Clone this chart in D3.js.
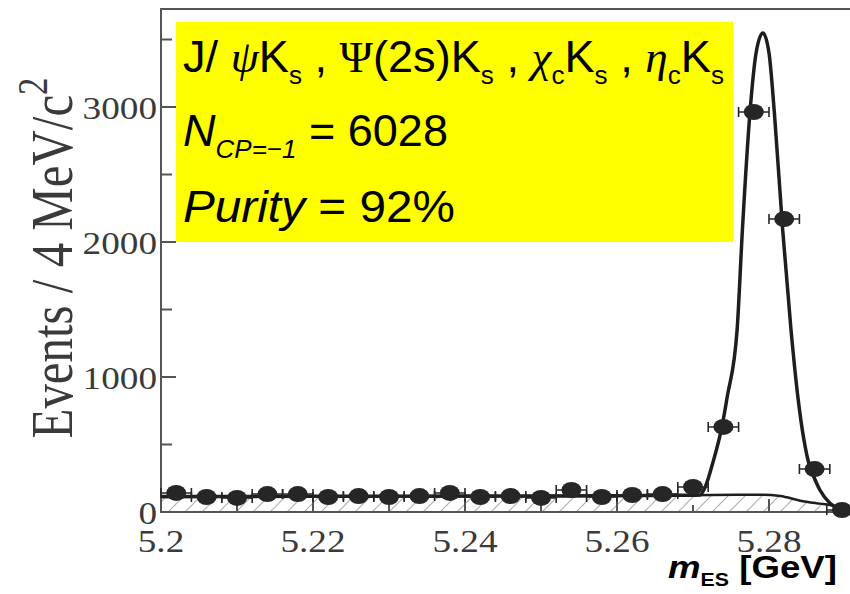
<!DOCTYPE html>
<html>
<head>
<meta charset="utf-8">
<script src="https://cdn.jsdelivr.net/npm/d3@7"></script>
<style>
  html, body { margin: 0; padding: 0; background: #fff; }
  svg { display: block; }
</style>
</head>
<body>
<div id="chart"></div>
<script>
"use strict";

const chtWidth = 850,
  chtHeight = 594;

// Plot frame (px)
const frame = { left: 161, right: 845, top: 9, bottom: 512, edge: 850 };

// Axes
const massDomain = [5.2, 5.29],
  eventsDomain = [0, 3726];
const massTicks = [5.2, 5.22, 5.24, 5.26, 5.28],
  massTickLabels = ["5.2", "5.22", "5.24", "5.26", "5.28"],
  massMinorTicks = [5.21, 5.23, 5.25, 5.27];
const eventTicks = [0, 1000, 2000, 3000],
  eventTickLabels = ["0", "1000", "2000", "3000"],
  eventMinorTicks = [500, 1500, 2500, 3500];

// Data points: 4 MeV bins
const binCenters = [
  5.202, 5.206, 5.21, 5.214, 5.218, 5.222, 5.226, 5.23, 5.234, 5.238, 5.242,
  5.246, 5.25, 5.254, 5.258, 5.262, 5.266, 5.27, 5.274, 5.278, 5.282, 5.286,
  5.2896,
];
const binEvents = [
  141, 111, 104, 133, 133, 111, 118, 111, 118, 141, 111, 118, 104, 163, 111,
  126, 133, 185, 630, 2963, 2170, 318, 15,
];

// Total fit curve
const fitMass = [
  5.2, 5.22, 5.24, 5.26, 5.266, 5.2695, 5.2709, 5.2716, 5.2726, 5.2738,
  5.2745, 5.2758, 5.2765, 5.2775, 5.2783, 5.2792, 5.28, 5.2807, 5.2818,
  5.2829, 5.2838, 5.2846, 5.2853, 5.2858, 5.2867, 5.288, 5.2896,
];
const fitEvents = [
  114, 116, 118, 121, 123, 124, 126, 185, 363, 630, 852, 1348, 2089, 2963,
  3400, 3548, 3400, 2963, 2089, 1348, 852, 533, 348, 274, 163, 67, 22,
];

// Background component (hatched)
const bkgMass = [
  5.2, 5.24, 5.26, 5.27, 5.276, 5.279, 5.2815, 5.2841, 5.2867, 5.288, 5.2896,
];
const bkgEvents = [112, 116, 120, 124, 127, 128, 118, 84, 62, 52, 22];

const x = d3.scaleLinear().domain(massDomain).range([frame.left, frame.right]);
const y = d3.scaleLinear().domain(eventsDomain).range([frame.bottom, frame.top]);

const svg = d3
  .select("#chart")
  .append("svg")
  .attr("width", chtWidth)
  .attr("height", chtHeight)
  .attr("viewBox", [0, 0, chtWidth, chtHeight]);

// Hatch pattern for the background area
svg
  .append("defs")
  .append("pattern")
  .attr("id", "hatch")
  .attr("patternUnits", "userSpaceOnUse")
  .attr("width", 17)
  .attr("height", 17)
  .append("path")
  .attr("d", "M0,17 L17,0 M-4,4 L4,-4 M13,21 L21,13")
  .attr("stroke", "#b0b0b0")
  .attr("stroke-width", 1.2);

const bkgData = bkgMass.map((m, i) => ({ m: m, v: bkgEvents[i] }));
const fitData = fitMass.map((m, i) => ({ m: m, v: fitEvents[i] }));
const pts = binCenters.map((m, i) => ({ m: m, v: binEvents[i] }));

svg
  .append("path")
  .datum(bkgData)
  .attr("fill", "url(#hatch)")
  .attr(
    "d",
    d3
      .area()
      .x((d) => x(d.m))
      .y0(y(0))
      .y1((d) => y(d.v))
      .curve(d3.curveMonotoneX)
  );

// Frame and ticks
const axisColor = "#555";
const gAxis = svg.append("g").attr("stroke", axisColor).attr("stroke-width", 2);

gAxis
  .append("path")
  .attr("fill", "none")
  .attr(
    "d",
    `M${frame.edge},${frame.top}H${frame.left}V${frame.bottom}H${frame.edge}`
  );

gAxis
  .selectAll(".ytick")
  .data(eventTicks.map((v) => ({ v: v, len: 15 })).concat(eventMinorTicks.map((v) => ({ v: v, len: 11 }))))
  .join("line")
  .attr("x1", frame.left)
  .attr("x2", (d) => frame.left + d.len)
  .attr("y1", (d) => y(d.v))
  .attr("y2", (d) => y(d.v));

gAxis
  .selectAll(".xtick")
  .data(massTicks.map((v) => ({ v: v, len: 13 })).concat(massMinorTicks.map((v) => ({ v: v, len: 7 }))))
  .join("line")
  .attr("x1", (d) => x(d.v))
  .attr("x2", (d) => x(d.v))
  .attr("y1", frame.bottom)
  .attr("y2", (d) => frame.bottom - d.len);

// Tick labels (serif, slightly stretched like the source)
const tickFont = "'Liberation Serif', 'Times New Roman', serif",
  tickColor = "#3a3a3a";

svg
  .append("g")
  .selectAll("g")
  .data(massTicks)
  .join("g")
  .attr("transform", (d) => `translate(${x(d)},552) scale(1.2,1)`)
  .append("text")
  .attr("text-anchor", "middle")
  .attr("font-family", tickFont)
  .attr("font-size", 31)
  .attr("fill", tickColor)
  .text((d, i) => massTickLabels[i]);

svg
  .append("g")
  .selectAll("g")
  .data(eventTicks)
  .join("g")
  .attr("transform", (d) => `translate(157,${y(d) + 12}) scale(1.2,1)`)
  .append("text")
  .attr("text-anchor", "end")
  .attr("font-family", tickFont)
  .attr("font-size", 31)
  .attr("fill", tickColor)
  .text((d, i) => eventTickLabels[i]);

// Y axis title
const yTitleG = svg.append("g");
const yTitle = yTitleG
  .append("text")
  .attr("font-family", tickFont)
  .attr("font-size", 48)
  .attr("fill", tickColor)
  .attr("text-anchor", "middle");
yTitle.append("tspan").text("Events / 4 MeV/c");
yTitle.append("tspan").attr("font-size", 34).attr("dy", -20).text("2");
fitText(yTitleG, yTitle, 72, 258, 361, "y");

// Curves
const curveColor = "#1e1e1e";
const line = d3
  .line()
  .x((d) => x(d.m))
  .y((d) => y(d.v))
  .curve(d3.curveMonotoneX);

svg
  .append("path")
  .datum(bkgData)
  .attr("fill", "none")
  .attr("stroke", curveColor)
  .attr("stroke-width", 2.5)
  .attr("d", line);

svg
  .append("path")
  .datum(fitData)
  .attr("fill", "none")
  .attr("stroke", curveColor)
  .attr("stroke-width", 3.5)
  .attr("stroke-linejoin", "round")
  .attr("d", line);

// Data points with horizontal error bars
const halfBin = 0.002;
const gPts = svg.append("g").attr("fill", "#262626").attr("stroke", "#262626");

gPts
  .selectAll(".err")
  .data(pts)
  .join("path")
  .attr("fill", "none")
  .attr("stroke-width", 1.6)
  .attr("d", (d) => {
    const x0 = x(d.m - halfBin),
      x1 = x(Math.min(d.m + halfBin, massDomain[1])),
      yy = y(d.v);
    return `M${x0},${yy}H${x1}M${x0},${yy - 5}V${yy + 5}M${x1},${yy - 5}V${yy + 5}`;
  });

gPts
  .selectAll("ellipse")
  .data(pts)
  .join("ellipse")
  .attr("stroke", "none")
  .attr("cx", (d) => x(d.m))
  .attr("cy", (d) => y(d.v))
  .attr("rx", 10)
  .attr("ry", 8);

// Yellow annotation box
svg
  .append("rect")
  .attr("x", 176)
  .attr("y", 22)
  .attr("width", 557)
  .attr("height", 220)
  .attr("fill", "#ffff00");

const boxFont = "'Liberation Sans', Arial, sans-serif",
  greekFont = "'Liberation Serif', 'Times New Roman', serif";

const boxLines = [
  {
    x0: 183, base: 72, w: 541,
    parts: [
      { t: "J/ " }, { t: "ψ", greek: true, it: true }, { t: "K" }, { t: "s", sub: true },
      { t: " , " }, { t: "Ψ", greek: true }, { t: "(2s)K" }, { t: "s", sub: true },
      { t: " , " }, { t: "χ", greek: true, it: true }, { t: "c", sub: true }, { t: "K" }, { t: "s", sub: true },
      { t: " ,  " }, { t: "η", greek: true, it: true }, { t: "c", sub: true }, { t: "K" }, { t: "s", sub: true },
    ],
  },
  {
    x0: 183, base: 146, w: 265,
    parts: [
      { t: "N", it: true }, { t: "CP=−1", sub: true, it: true }, { t: " = 6028" },
    ],
  },
  {
    x0: 183, base: 222, w: 272,
    parts: [{ t: "Purity", it: true }, { t: " = 92%" }],
  },
];

boxLines.forEach((ln) => {
  const g = svg.append("g");
  const txt = g
    .append("text")
    .attr("font-family", boxFont)
    .attr("font-size", 45)
    .attr("fill", "#000");
  writeParts(txt, ln.parts, 45);
  fitText(g, txt, ln.x0, ln.base, ln.w, "x");
});

// X axis title
const xTitleG = svg.append("g");
const xTitle = xTitleG
  .append("text")
  .attr("font-family", boxFont)
  .attr("font-weight", "bold")
  .attr("font-size", 31)
  .attr("fill", "#000");
writeParts(
  xTitle,
  [{ t: "m", it: true }, { t: "ES", sub: true }, { t: " [GeV]" }],
  31
);
fitText(xTitleG, xTitle, 668, 578, 169, "x");

function writeParts(txt, parts, size) {
  // Subscripts are shifted down with dy and restored on the next part
  let shift = 0;
  parts.forEach((p) => {
    const ts = txt.append("tspan").text(p.t);
    const target = p.sub ? Math.round(size * 0.27) : 0;
    if (target !== shift) ts.attr("dy", target - shift);
    shift = target;
    if (p.sub) ts.attr("font-size", Math.round(size * 0.58));
    if (p.it) ts.attr("font-style", "italic");
    if (p.greek) ts.attr("font-family", greekFont);
  });
}

function fitText(g, txt, px, py, target, dir) {
  // Stretch a text horizontally (or along y for rotated title) to the width seen in the source
  const bb = txt.node().getBBox();
  const s = target / bb.width;
  if (dir === "y") {
    txt.attr("x", 0).attr("y", 0);
    g.attr("transform", `translate(${px},${py}) scale(1.25,1) rotate(-90) scale(${s},1)`);
  } else {
    g.attr("transform", `translate(${px},${py}) scale(${s},1) translate(${-bb.x},0)`);
  }
}
</script>
</body>
</html>
